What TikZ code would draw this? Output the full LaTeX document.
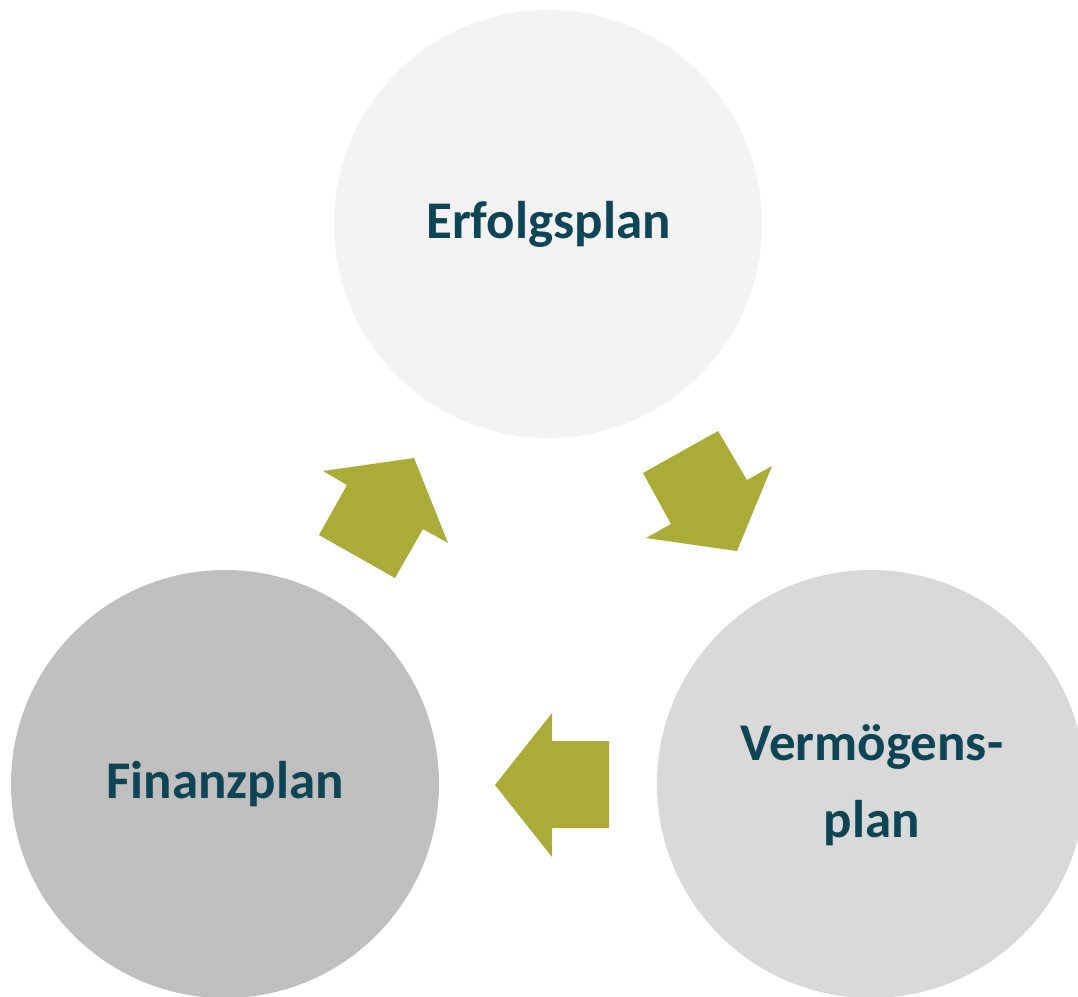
\documentclass[tikz,border=0pt]{standalone}
\usepackage{fontspec}
\setmainfont{Carlito}
\definecolor{txtcol}{RGB}{12,69,86}
\definecolor{olive}{RGB}{171,171,55}
\definecolor{cerf}{HTML}{F2F2F2}
\definecolor{cfin}{HTML}{BFBFBF}
\definecolor{cver}{HTML}{D9D9D9}
\begin{document}
\begin{tikzpicture}[x=1pt,y=-1pt,
  planc/.style={circle,minimum size=428pt,inner sep=0pt,draw=none},
  lbl/.style={anchor=base,inner sep=0pt,text=txtcol,font=\fontsize{53}{77}\selectfont\bfseries},
  blockarrow/.style={fill=olive,draw=none}]
\useasboundingbox (0,0) rectangle (1078,996);
\clip (0,0) rectangle (1078,996);
\fill[white] (0,0) rectangle (1078,996);
\node[planc,fill=cerf] (erf) at (548,224) {};
\node[planc,fill=cfin] (fin) at (225,784) {};
\node[planc,fill=cver] (ver) at (871,784) {};
\node[lbl] (terf) at (548.5,238.5) {Erfolgsplan};
\node[lbl] (tfin) at (225,798) {Finanzplan};
\node[lbl] (tver1) at (872,760) {Vermögens-};
\node[lbl] (tver2) at (872,837) {plan};
% arrow Finanzplan -> Erfolgsplan
\fill[blockarrow] (323,471) -- (414,458) -- (448,543) -- (423,529) -- (395,578) -- (319,535) -- (347,485) -- cycle;
% arrow Erfolgsplan -> Vermoegensplan
\fill[blockarrow] (643,473) -- (718,431) -- (747,480) -- (772,466) -- (737,551) -- (646,538) -- (671,524) -- cycle;
% arrow Vermoegensplan -> Finanzplan
\fill[blockarrow] (495,785) -- (552,713) -- (552,741) -- (609,741) -- (609,828) -- (552,828) -- (552,857) -- cycle;
\end{tikzpicture}
\end{document}
